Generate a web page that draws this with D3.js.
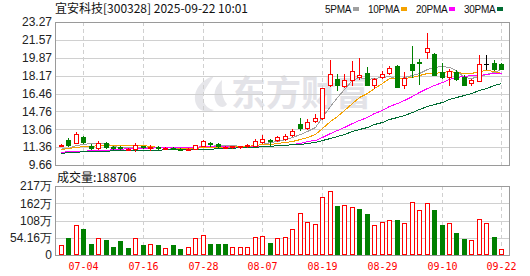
<!DOCTYPE html>
<html>
<head>
<meta charset="utf-8">
<script src="https://cdn.jsdelivr.net/npm/d3@7"></script>
<style>
  body { margin: 0; background: #fff; }
  svg { display: block; }
</style>
</head>
<body>
<script>
// daily K-line data, 2025-07-01 .. 2025-09-22
var dates = ["07-01","07-02","07-03","07-04","07-07","07-08","07-09","07-10","07-11","07-14",
             "07-15","07-16","07-17","07-18","07-21","07-22","07-23","07-24","07-25","07-28",
             "07-29","07-30","07-31","08-01","08-04","08-05","08-06","08-07","08-08","08-11",
             "08-12","08-13","08-14","08-15","08-18","08-19","08-20","08-21","08-22","08-25",
             "08-26","08-27","08-28","08-29","09-01","09-02","09-03","09-04","09-05","09-08",
             "09-09","09-10","09-11","09-12","09-15","09-16","09-17","09-18","09-19","09-22"];

var open  = [11.50,12.07,11.78,12.30,11.50,11.27,11.72,11.40,11.42,11.18,
             11.15,11.45,11.32,11.40,11.25,11.30,11.22,11.12,11.22,11.50,
             11.80,11.62,11.30,11.38,11.33,11.45,11.50,11.88,12.05,12.07,
             12.17,12.47,13.56,13.20,13.87,14.10,17.32,17.85,17.21,17.72,
             18.03,18.42,17.24,18.00,18.46,19.06,17.32,19.27,19.42,20.39,
             20.18,18.51,18.00,18.48,18.08,17.50,17.68,19.32,19.40,19.32];
var high  = [11.65,12.26,12.80,12.40,11.70,11.99,11.88,11.50,11.50,11.30,
             11.77,11.50,11.60,11.45,11.38,11.35,11.28,11.25,11.60,12.07,
             11.85,11.72,11.45,11.48,11.50,11.65,12.17,12.47,12.10,12.38,
             12.60,13.06,14.16,14.00,14.50,17.00,19.65,18.32,18.30,19.53,
             19.84,18.95,17.94,18.63,19.05,19.15,18.50,20.99,19.74,22.25,
             20.28,19.40,18.77,18.67,18.25,17.88,20.13,20.13,19.62,19.35];
var low   = [11.45,11.50,11.75,11.80,11.22,11.20,11.25,11.20,11.20,11.12,
             10.95,11.30,11.10,11.20,11.20,11.18,11.10,11.08,11.15,11.45,
             11.45,11.40,11.28,11.32,11.30,11.40,11.45,11.80,11.60,11.95,
             12.05,12.38,12.99,13.10,13.80,14.00,17.20,16.83,17.05,17.25,
             17.87,17.24,16.97,17.90,18.35,17.05,17.02,18.04,17.34,19.82,
             18.20,17.90,17.25,17.72,17.30,17.30,17.62,18.77,18.70,18.78];
var close = [11.60,11.59,12.58,11.82,11.25,11.75,11.38,11.33,11.27,11.22,
             11.54,11.38,11.42,11.28,11.30,11.22,11.15,11.20,11.52,11.94,
             11.68,11.48,11.42,11.44,11.46,11.55,11.94,12.12,11.97,12.32,
             12.40,12.94,13.20,13.75,14.16,16.96,18.30,17.32,17.73,18.64,
             18.25,17.30,17.80,18.32,18.87,17.13,17.92,18.72,19.35,20.77,
             18.27,18.08,18.56,17.84,17.32,17.77,19.27,19.32,18.76,18.80];

// volume, in 万
var volume = [31.4,54.5,94.4,82.8,34.6,52.4,47.2,25.2,44.0,22.0,
              52.4,31.4,33.5,31.4,22.0,31.4,18.9,24.1,52.4,62.9,
              34.6,34.6,34.6,24.1,24.1,24.1,55.6,58.7,37.7,52.4,
              55.6,80.7,131.0,102.8,96.5,181.4,200.2,154.1,157.3,150.0,
              144.7,129.0,94.4,102.8,109.0,110.0,99.6,165.6,140.5,162.5,
              141.5,94.4,99.6,70.2,50.3,46.1,112.2,99.6,55.6,18.8706];

// moving averages as drawn
var ma5  = [11.25,11.30,11.55,11.70,11.77,11.80,11.76,11.51,11.40,11.39,
            11.35,11.35,11.37,11.37,11.38,11.32,11.27,11.23,11.28,11.41,
            11.50,11.56,11.61,11.59,11.50,11.47,11.56,11.70,11.81,11.98,
            12.15,12.35,12.57,12.92,13.29,14.20,15.27,16.10,16.89,17.79,
            18.05,17.85,17.94,18.06,18.11,17.88,18.01,18.19,18.40,18.78,
            19.01,19.04,19.01,18.70,18.01,17.91,18.15,18.30,18.49,18.78];
var ma10 = [11.18,11.25,11.35,11.45,11.48,11.52,11.55,11.56,11.57,11.58,
            11.57,11.55,11.44,11.38,11.39,11.33,11.31,11.30,11.32,11.40,
            11.41,11.42,11.42,11.44,11.45,11.48,11.56,11.66,11.70,11.74,
            11.81,11.96,12.13,12.37,12.64,13.18,13.81,14.33,14.91,15.54,
            16.13,16.56,17.02,17.48,17.95,17.97,17.93,18.07,18.23,18.44,
            18.45,18.52,18.60,18.55,18.40,18.46,18.60,18.66,18.60,18.40];
var ma20 = [10.93,10.97,11.00,11.02,11.10,11.12,11.13,11.15,11.20,11.24,
            11.26,11.28,11.31,11.33,11.34,11.35,11.36,11.38,11.42,11.49,
            11.49,11.49,11.43,11.41,11.42,11.41,11.44,11.48,11.51,11.57,
            11.61,11.69,11.78,11.90,12.04,12.33,12.69,12.99,13.30,13.64,
            13.97,14.26,14.58,14.92,15.29,15.57,15.87,16.20,16.57,16.99,
            17.29,17.54,17.81,18.01,18.17,18.21,18.26,18.36,18.41,18.42];
var ma30 = [10.80,10.88,10.92,10.96,11.00,11.01,11.03,11.05,11.07,11.09,
            11.10,11.11,11.12,11.13,11.14,11.14,11.15,11.16,11.18,11.20,
            11.22,11.25,11.28,11.31,11.34,11.38,11.42,11.46,11.51,11.57,
            11.60,11.64,11.66,11.73,11.82,12.00,12.23,12.43,12.64,12.89,
            13.11,13.31,13.52,13.76,14.01,14.21,14.43,14.69,14.95,15.24,
            15.46,15.68,15.92,16.13,16.33,16.53,16.78,17.02,17.24,17.46];

var priceTicks = [23.27,21.57,19.87,18.17,16.46,14.76,13.06,11.36,9.66];
var volTickValues = [216.64,162.48,108.32,54.16,0];
var volTickLabels = ["217万","162万","108万","54.16万","0"];
var dateTicks = ["07-04","07-16","07-28","08-07","08-19","08-29","09-10","09-22"];

var maNames  = ["5PMA","10PMA","20PMA","30PMA"];
var maColors = ["#a0a0a0","#f5a200","#ff00ff","#006c33"];
var maSeries = [ma5, ma10, ma20, ma30];

var upColor = "#ff0000", downColor = "#008000", gridColor = "#d0d0d0", frameColor = "#9a9a9a";

var W = 530, H = 276;
var left = 55, right = 509;
var top1 = 22, bot1 = 165;   // price panel
var top2 = 186, bot2 = 255;  // volume panel

var svg = d3.select("body").append("svg")
    .attr("width", W)
    .attr("height", H)
    .style("font-family", "'Liberation Sans', Arial, sans-serif");

var x = d3.scaleBand().domain(dates).range([57, 505]);
var xc = function(d) { return Math.round(x(d) + x.bandwidth() / 2); };

var y = d3.scaleLinear().domain([9.66, 23.27]).range([bot1, top1]);
var yv = d3.scaleLinear().domain([0, 216.64]).range([bot2, top2]);

// watermark
var wm = svg.append("g").attr("fill", "#e3e3e8");
wm.append("path")
    .attr("d", "M214,76 C200,80 192,92 196,104 C199,112 208,113 214,110 C204,108 200,98 206,88 C209,83 212,79 214,76 Z"
      + " M222,80 C215,86 212,96 217,104 C220,108 225,108 227,104 C223,100 221,92 222,80 Z")
    .attr("opacity", 0.9);
wm.append("text")
    .attr("x", 231)
    .attr("y", 106)
    .style("font-family", "'Noto Sans CJK SC', sans-serif")
    .style("font-weight", 700)
    .style("font-size", "35px")
    .text("东方财富");

// horizontal grid, price panel
svg.append("g").selectAll("line")
  .data(priceTicks.slice(1, -1))
  .enter().append("line")
    .attr("x1", left).attr("x2", right)
    .attr("y1", function(d) { return Math.round(y(d)) + 0.5; })
    .attr("y2", function(d) { return Math.round(y(d)) + 0.5; })
    .attr("stroke", gridColor);

// horizontal grid, volume panel
svg.append("g").selectAll("line")
  .data(volTickValues.slice(1, -1))
  .enter().append("line")
    .attr("x1", left).attr("x2", right)
    .attr("y1", function(d) { return Math.round(yv(d)) + 0.5; })
    .attr("y2", function(d) { return Math.round(yv(d)) + 0.5; })
    .attr("stroke", gridColor);

// vertical dashed grid in both panels
[[top1, bot1], [top2, bot2]].forEach(function(p) {
  svg.append("g").selectAll("line")
    .data(dateTicks)
    .enter().append("line")
      .attr("x1", function(d) { return xc(d) + 0.5; })
      .attr("x2", function(d) { return xc(d) + 0.5; })
      .attr("y1", p[0]).attr("y2", p[1])
      .attr("stroke", gridColor)
      .attr("stroke-dasharray", "4,3");
});

// MA lines
maSeries.forEach(function(s, k) {
  var line = d3.line()
      .x(function(d, i) { return xc(dates[i]) + 0.5; })
      .y(function(d) { return Math.round(y(d)) + 0.5; });
  svg.append("path")
      .datum(s)
      .attr("fill", "none")
      .attr("stroke", maColors[k])
      .attr("stroke-width", 1)
      .attr("shape-rendering", "crispEdges")
      .attr("d", line);
});

// candles
var candles = svg.append("g").selectAll("g")
  .data(dates.map(function(d, i) { return i; }))
  .enter().append("g");

candles.each(function(i) {
  var g = d3.select(this);
  var c = xc(dates[i]);
  var o = open[i], cl = close[i];
  var col = cl > o ? upColor : (cl < o ? downColor : "#000");
  g.append("line")
      .attr("x1", c + 0.5).attr("x2", c + 0.5)
      .attr("y1", Math.round(y(high[i]))).attr("y2", Math.round(y(low[i])) + 1)
      .attr("stroke", col);
  var yt = Math.round(y(Math.max(o, cl))), yb = Math.round(y(Math.min(o, cl)));
  if (cl > o) {
    g.append("rect")
        .attr("x", c - 2 + 0.5).attr("y", yt + 0.5)
        .attr("width", 4).attr("height", Math.max(yb - yt, 1))
        .attr("fill", "#fff").attr("stroke", col);
  } else if (cl < o) {
    g.append("rect")
        .attr("x", c - 2).attr("y", yt)
        .attr("width", 5).attr("height", Math.max(yb - yt, 1) + 1)
        .attr("fill", col);
  } else {
    g.append("line")
        .attr("x1", c - 2).attr("x2", c + 3)
        .attr("y1", yt + 0.5).attr("y2", yt + 0.5)
        .attr("stroke", col);
  }
});

// volume bars, colored by close vs previous close
svg.append("g").selectAll("rect")
  .data(volume)
  .enter().append("rect")
    .each(function(v, i) {
      var up = i === 0 ? close[i] >= open[i] : close[i] >= close[i - 1];
      var c = xc(dates[i]);
      var t = Math.round(yv(v));
      var r = d3.select(this);
      if (up) {
        r.attr("x", c - 2 + 0.5).attr("y", t + 0.5)
         .attr("width", 4).attr("height", Math.max(bot2 - t - 1, 1))
         .attr("fill", "#fff").attr("stroke", upColor);
      } else {
        r.attr("x", c - 2).attr("y", t)
         .attr("width", 5).attr("height", bot2 - t)
         .attr("fill", downColor);
      }
    });

// frames
[[top1, bot1], [top2, bot2]].forEach(function(p) {
  svg.append("rect")
      .attr("x", left + 0.5).attr("y", p[0] + 0.5)
      .attr("width", right - left).attr("height", p[1] - p[0])
      .attr("fill", "none")
      .attr("stroke", frameColor);
});

// price axis labels
svg.append("g").selectAll("text")
  .data(priceTicks)
  .enter().append("text")
    .attr("x", 52)
    .attr("y", function(d) { return y(d); })
    .attr("dy", "0.36em")
    .attr("text-anchor", "end")
    .style("font-size", "12px")
    .attr("fill", "#222")
    .text(function(d) { return d.toFixed(2); });

// volume axis labels
svg.append("g").selectAll("text")
  .data(volTickValues)
  .enter().append("text")
    .attr("x", 52)
    .attr("y", function(d) { return yv(d); })
    .attr("dy", "0.36em")
    .attr("text-anchor", "end")
    .style("font-size", "12px")
    .attr("fill", "#222")
    .text(function(d, i) { return volTickLabels[i]; });

// date labels
svg.append("g").selectAll("text")
  .data(dateTicks)
  .enter().append("text")
    .attr("x", function(d) { return xc(d) + 0.5; })
    .attr("y", 269.5)
    .attr("text-anchor", "middle")
    .style("font-family", "'DejaVu Sans Mono', monospace")
    .style("font-size", "10px")
    .attr("fill", upColor)
    .text(function(d) { return d; });

// title
svg.append("text")
    .attr("x", 55).attr("y", 13)
    .style("font-family", "'Noto Sans CJK SC', sans-serif")
    .style("font-size", "12px")
    .attr("fill", "#111")
    .text("宜安科技[300328] 2025-09-22 10:01");

svg.append("text")
    .attr("x", 57).attr("y", 181.5)
    .style("font-family", "'Noto Sans CJK SC', sans-serif")
    .style("font-size", "12px")
    .attr("fill", "#111")
    .text("成交量:" + Math.round(volume[volume.length - 1] * 10000));

// legend
var lx = 325;
maNames.forEach(function(name, k) {
  var t = svg.append("text")
      .attr("x", lx).attr("y", 12.5)
      .style("font-size", "10px")
      .style("letter-spacing", "-0.3px")
      .attr("fill", "#111")
      .text(name);
  var w = t.node().getComputedTextLength();
  svg.append("rect")
      .attr("x", Math.round(lx + w + 2)).attr("y", 7)
      .attr("width", 6).attr("height", 4)
      .attr("fill", maColors[k]);
  lx = Math.round(lx + w + 2 + 6 + 9);
});
</script>
</body>
</html>
